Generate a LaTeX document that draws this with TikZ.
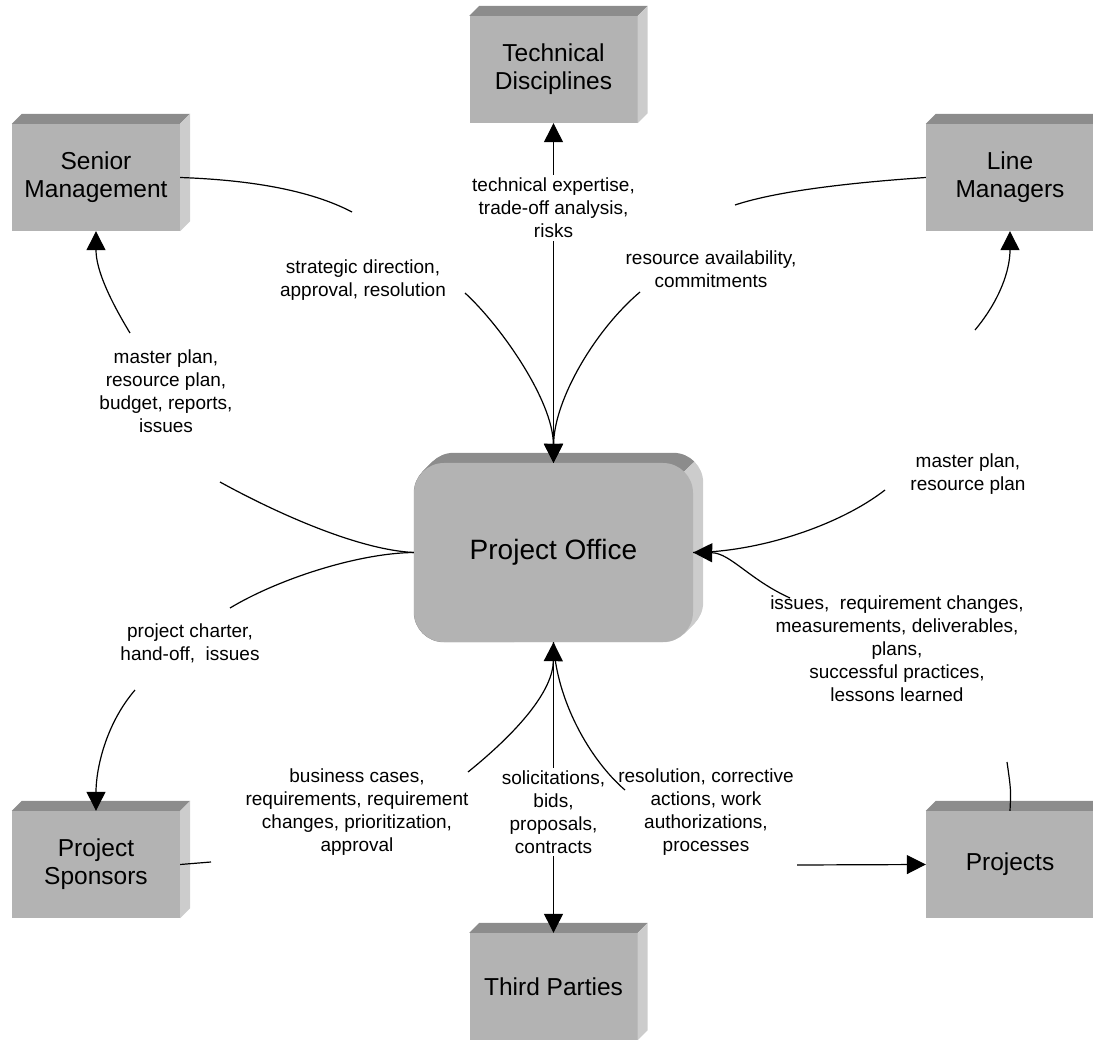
\documentclass[tikz,border=0pt]{standalone}
\usepackage{fontspec}
\setmainfont{Liberation Sans}
\usetikzlibrary{arrows.meta,calc,backgrounds}
\definecolor{facec}{RGB}{179,179,179}
\definecolor{topc}{RGB}{140,140,140}
\definecolor{sidec}{RGB}{204,204,204}
\begin{document}
\begin{tikzpicture}[x=1pt,y=-1pt,
  box/.style={fill=facec, minimum width=168pt, minimum height=107pt, inner sep=0pt,
    align=center, font=\fontsize{24.5}{28}\selectfont},
  office/.style={fill=facec, rounded corners=30pt, minimum width=279pt, minimum height=179pt,
    inner sep=0pt, font=\fontsize{28}{32}\selectfont},
  lab/.style={align=center, inner sep=0pt, font=\fontsize{19}{23}\selectfont},
  labw/.style={lab, fill=white, inner sep=3pt},
  conn/.style={line width=1.2pt},
  arr/.style={conn, -{Triangle[length=19pt,width=19pt]}},
]
\useasboundingbox (0,0) rectangle (1093,1040);

% outer boxes (front faces)
\node[box] (sm) at (96,177.5)   {Senior\\Management};
\node[box] (td) at (553.5,69.5) {Technical\\Disciplines};
\node[box] (lm) at (1010,177.5) {Line\\Managers};
\node[box] (ps) at (96,864.5)   {Project\\Sponsors};
\node[box] (tp) at (553.5,986.5){Third Parties};
\node[box] (pj) at (1010,864.5) {Projects};

% top and side faces of the boxes
\foreach \n in {sm,td,lm,ps,tp,pj} {
  \fill[topc] (\n.north west) -- ($(\n.north west)+(10,-10)$) -- ($(\n.north east)+(10,-10)$) -- (\n.north east) -- cycle;
  \fill[sidec] (\n.north east) -- ($(\n.north east)+(10,-10)$) -- ($(\n.south east)+(10,-10)$) -- (\n.south east) -- cycle;
}

% central office
\node[office] (po) at (553.5,552.5) {Project Office};
\begin{scope}[on background layer]
  \coordinate (pk) at ($(po.north east)+(-8.8,8.8)$);
  \begin{scope}
    \clip ($(pk)+(-500,500)$) -- ($(pk)+(500,-500)$) -- ($(pk)+(-500,-500)$) -- cycle;
    \foreach \i in {0,...,10}
      \fill[topc, rounded corners=30pt] ($(po.south west)+(\i,-\i)$) rectangle ($(po.north east)+(\i,-\i)$);
  \end{scope}
  \begin{scope}
    \clip ($(pk)+(-500,500)$) -- ($(pk)+(500,-500)$) -- ($(pk)+(500,500)$) -- cycle;
    \foreach \i in {0,...,10}
      \fill[sidec, rounded corners=30pt] ($(po.south west)+(\i,-\i)$) rectangle ($(po.north east)+(\i,-\i)$);
  \end{scope}
\end{scope}

% labels
\node[lab] (l1) at (363,280) {strategic direction,\\approval, resolution};
\node[lab] (l3) at (711,269) {resource availability,\\commitments};
\node[lab] (l4) at (166,391) {master plan,\\resource plan,\\budget, reports,\\issues};
\node[lab] (l5) at (190,643) {project charter,\\hand-off,\ \ issues};
\node[lab] (l6) at (357,812) {business cases,\\requirements, requirement\\changes, prioritization,\\approval};
\node[lab] (l8) at (706,812) {resolution, corrective\\actions, work\\authorizations,\\processes};
\node[lab] (l9) at (897,649) {issues,\ \ requirement changes,\\measurements, deliverables,\\plans,\\successful practices,\\lessons learned};
\node[lab] (l10) at (968,474) {master plan,\\resource plan};

% gap end points of the connectors around the labels
\coordinate (g1a) at (352,212);  \coordinate (g1b) at (465,293);
\coordinate (g3a) at (735,205);  \coordinate (g3b) at (640,292);
\coordinate (g4a) at (220,482);  \coordinate (g4b) at (130,333);
\coordinate (g5a) at (230,608);  \coordinate (g5b) at (135,690);
\coordinate (g6a) at (211,862);  \coordinate (g6b) at (468,772);
\coordinate (g8a) at (625,790);  \coordinate (g8b) at (797,865);
\coordinate (g9a) at (1007,762); \coordinate (g9b) at (790,598);
\coordinate (g10a) at (885,490); \coordinate (g10b) at (975,330);

% straight connectors
\draw[arr] (po.north) -- (td.south);
\draw[arr] (po.south) -- (tp.north);
\node[labw] (l2) at (553.5,208) {technical expertise,\\trade-off analysis,\\risks};
\node[labw] (l7) at (553.5,812) {solicitations,\\bids,\\proposals,\\contracts};

% curved connectors
\draw[conn] (sm.east) .. controls (250,180) and (310,190) .. (g1a);
\draw[arr] (g1b) .. controls (500,325) and (553,400) .. (po.north);

\draw[conn] (lm.west) .. controls (860,182) and (780,190) .. (g3a);
\draw[arr] (g3b) .. controls (595,330) and (554,400) .. (po.north);

\draw[conn] (po.west) .. controls (360,550) and (280,515) .. (g4a);
\draw[arr] (g4b) .. controls (110,300) and (96,270) .. (sm.south);

\draw[conn] (po.west) .. controls (360,553) and (280,578) .. (g5a);
\draw[arr] (g5b) .. controls (105,725) and (96,770) .. (ps.north);

\draw[conn] (ps.east) -- (g6a);
\draw[arr] (g6b) .. controls (520,730) and (553,690) .. (po.south);

\draw[conn] (po.south) .. controls (556,700) and (590,760) .. (g8a);
\draw[arr] (g8b) -- (pj.west);

\draw[conn] (po.east) .. controls (760,552) and (840,525) .. (g10a);
\draw[arr] (g10b) .. controls (1000,300) and (1010,270) .. (lm.south);

\draw[conn] (pj.north) .. controls (1011,790) .. (g9a);
\draw[arr] (g9b) .. controls (750,580) and (730,553) .. (po.east);
\end{tikzpicture}
\end{document}
